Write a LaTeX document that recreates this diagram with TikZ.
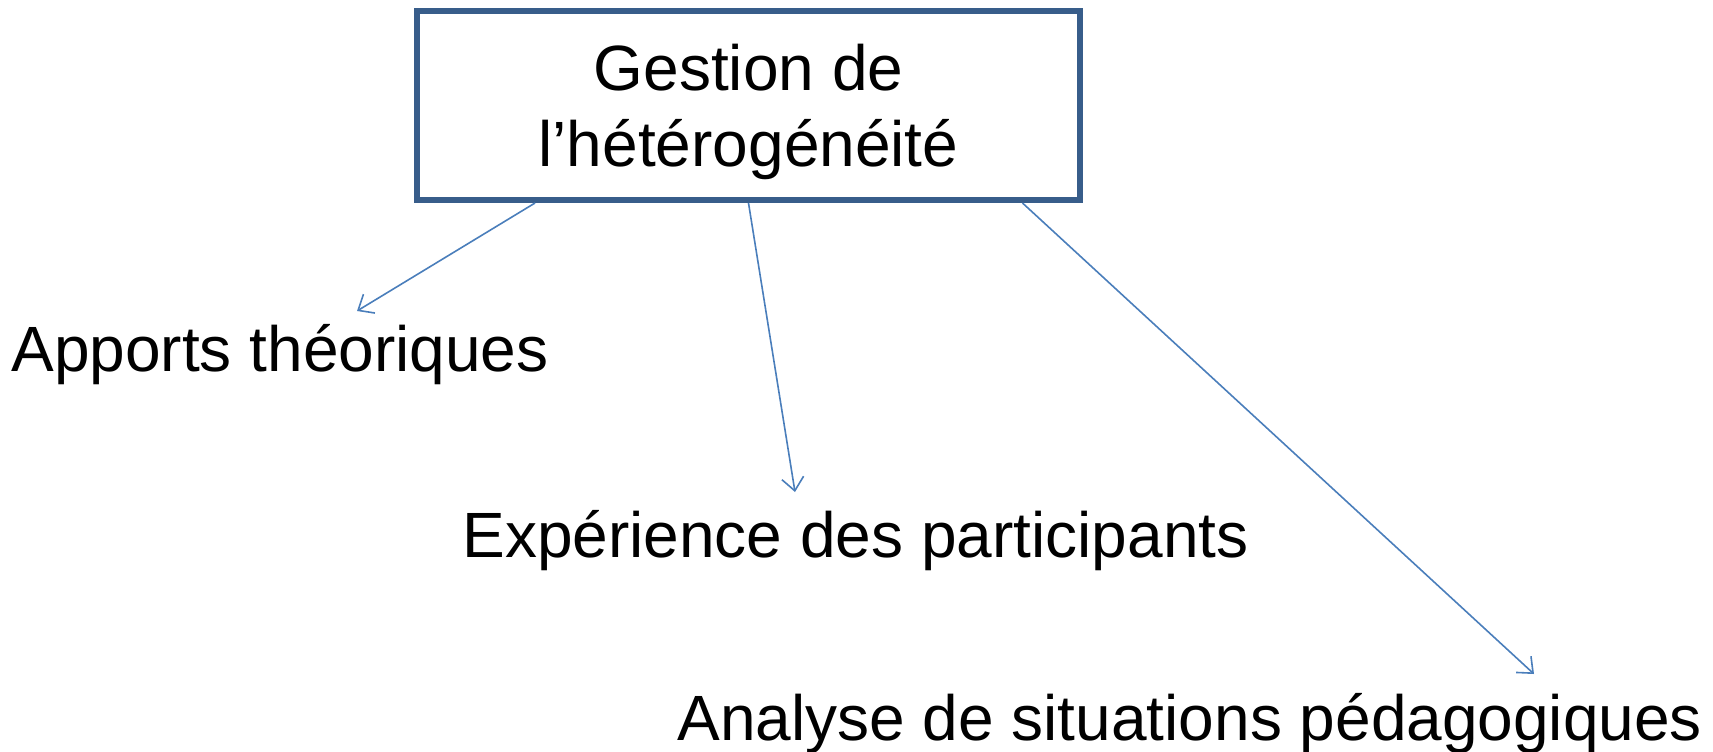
\documentclass[tikz,border=0pt]{standalone}
\usepackage{fontspec}
\setmainfont{Liberation Sans}
\usetikzlibrary{arrows.meta,calc}
\definecolor{boxblue}{HTML}{385D8A}
\definecolor{arrowblue}{HTML}{4A7EBB}
\begin{document}
\begin{tikzpicture}[x=0.5pt,y=-0.5pt,
  lbl/.style={font=\fontsize{32}{38}\selectfont, inner sep=0pt, anchor=base west},
  mainbox/.style={draw=boxblue, line width=3pt, inner sep=0pt,
    minimum width=331.5pt, minimum height=94.5pt},
  title/.style={inner sep=0pt, align=center, font=\fontsize{32}{38}\selectfont},
  conn/.style={draw=arrowblue, line width=0.8pt, -{Straight Barb[length=6.5pt,width=11pt]}}]
\useasboundingbox (0,0) rectangle (1713,751);
\node[mainbox] (box) at (748.5,105.5) {};
\node[title] (boxtext) at ([yshift=-3pt]box.center) {Gestion de\\l’hétérogénéité};
\node[lbl] (a) at (11,371) {Apports théoriques};
\node[lbl] (b) at (462,557) {Expérience des participants};
\node[lbl] (c) at (677,740) {Analyse de situations pédagogiques};
\coordinate (t1) at (357,311);
\coordinate (t2) at (795,492);
\coordinate (t3) at (1534,674);
\draw[conn] ([xshift=-106.75pt]box.south) -- (t1);
\draw[conn] (box.south) -- (t2);
\draw[conn] ([xshift=137pt]box.south) -- (t3);
\end{tikzpicture}
\end{document}
